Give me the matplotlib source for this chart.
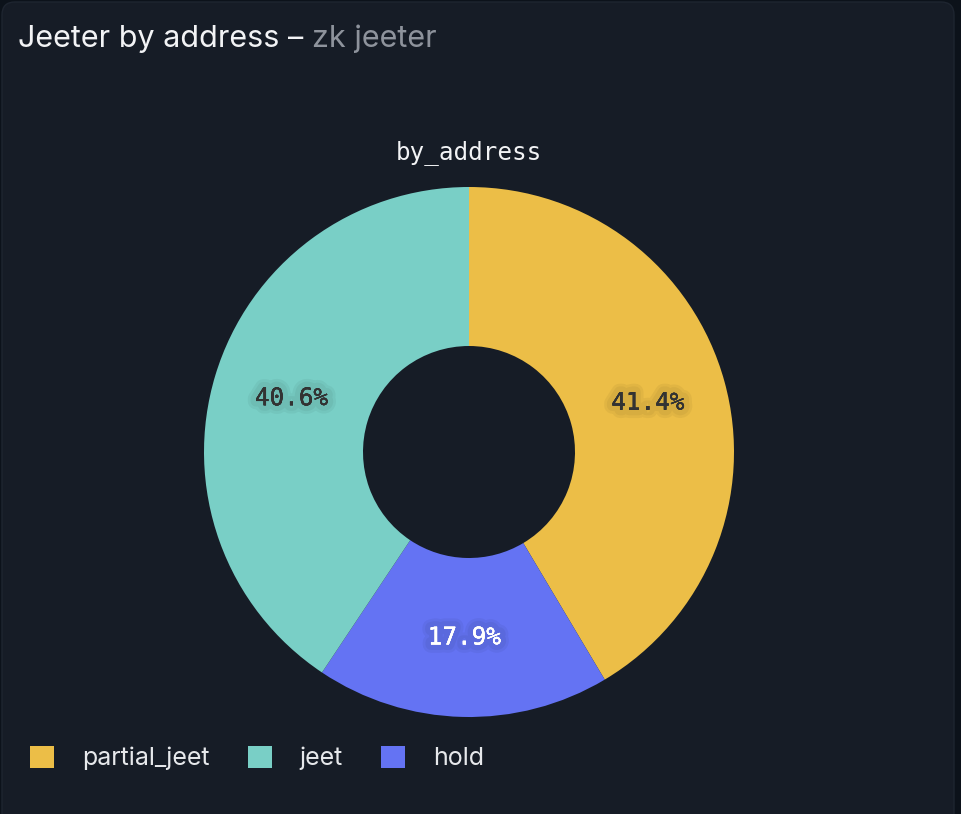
import matplotlib
matplotlib.use("Agg")
import matplotlib.pyplot as plt
import matplotlib.patheffects as pe
from matplotlib.patches import FancyBboxPatch
from matplotlib.transforms import IdentityTransform

categories = ["partial_jeet", "jeet", "hold"]
shares = [41.4, 40.6, 17.9]
colors = ["#ECBE47", "#79CFC6", "#6473F3"]
label_colors = ["#333333", "#333333", "#FFFFFF"]

# clockwise drawing order from 12 o'clock
draw_order = [0, 2, 1]

W, H = 962, 814
fig = plt.figure(figsize=(W / 100, H / 100), dpi=100)
fig.patch.set_facecolor("#0C121A")

card = FancyBboxPatch((2, -30), 952, 842, boxstyle="round,pad=0,rounding_size=13",
                      transform=IdentityTransform(), facecolor="#161C26",
                      edgecolor="#1E2530", linewidth=1, zorder=-5)
fig.patches.append(card)

# title
t1 = fig.text(18 / W, 1 - 47 / H, "Jeeter by address \u2013 ", family=["Inter", "DejaVu Sans"],
              fontsize=22, color="#F2F3F5", va="baseline")
fig.canvas.draw()
bb = t1.get_window_extent()
fig.text(bb.x1 / W, 1 - 47 / H, "zk jeeter", family=["Inter", "DejaVu Sans"],
         fontsize=22, color="#8E939C", va="baseline")

# donut
cx, cy, r = 469, 452, 265
ax = fig.add_axes([(cx - r) / W, (H - cy - r) / H, 2 * r / W, 2 * r / H])
ax.set_facecolor("none")
wedges, texts, autotexts = ax.pie(
    [shares[i] for i in draw_order],
    colors=[colors[i] for i in draw_order],
    startangle=90, counterclock=False, radius=1,
    autopct="%1.1f%%", pctdistance=0.7,
    wedgeprops=dict(width=0.6, linewidth=0),
)
ax.set_xlim(-1, 1)
ax.set_ylim(-1, 1)
ax.set_aspect("equal")
ax.axis("off")

# soft glow behind the percentage labels
glow = [pe.withStroke(linewidth=w, foreground=(0, 0, 0, 0.045)) for w in (12, 8)]
for k, txt in enumerate(autotexts):
    i = draw_order[k]
    txt.set_color(label_colors[i])
    txt.set_family(["DejaVu Sans Mono"])
    txt.set_fontsize(17.5)
    txt.set_path_effects(glow + [pe.Normal()])

fig.text(cx / W, 1 - 153 / H, "by_address", family=["DejaVu Sans Mono"], fontsize=17.5,
         color="#F2F3F5", ha="center", va="center")

# legend
handles = [wedges[draw_order.index(i)] for i in range(len(categories))]
leg = fig.legend(handles, categories, loc="center left", bbox_to_anchor=(30 / W, 1 - 758 / H),
                 ncol=3, frameon=False, handlelength=0.96, handleheight=0.96,
                 handletextpad=1.12, columnspacing=1.52, borderaxespad=0, borderpad=0,
                 prop={"family": ["Inter", "DejaVu Sans"], "size": 18})
for t in leg.get_texts():
    t.set_color("#E6E8EB")
for h in leg.legend_handles:
    h.set_linewidth(0)

fig.savefig("out.png", dpi=100, facecolor=fig.get_facecolor())
